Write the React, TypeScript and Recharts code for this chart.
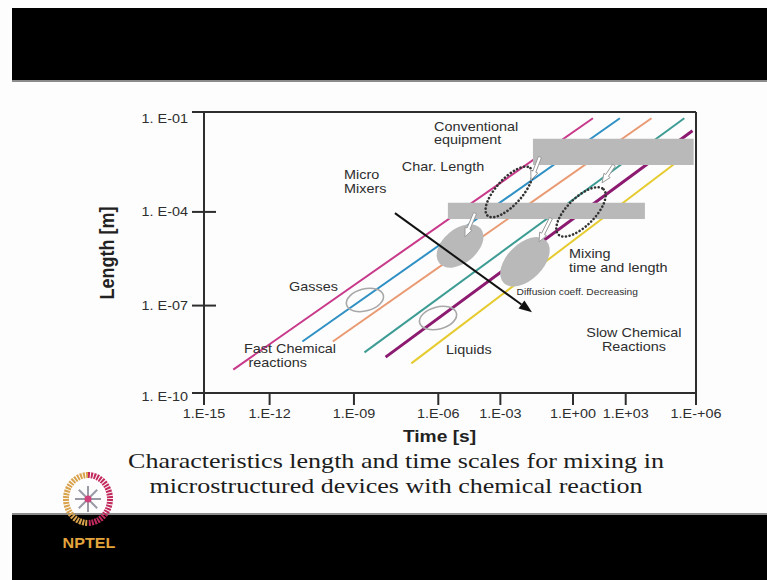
import React from "react";
import {
  ComposedChart,
  Line,
  XAxis,
  YAxis,
  ReferenceArea,
  ReferenceLine,
  ReferenceDot,
  Label,
} from "recharts";

// axis ticks (as drawn on the slide, log10 units; spacing is irregular in the original)
const xTickPos = [-15, -12.2, -8.6, -5.0, -2.35, 0.75, 3.0, 6];
const xTickLabels = ["1.E-15", "1.E-12", "1.E-09", "1.E-06", "1.E-03", "1.E+00", "1.E+03", "1.E-+06"];
const yTickPos = [-1, -4.2, -7.2, -10];
const yTickLabels = ["1. E-01", "1. E-04", "1. E-07", "1. E-10"];

// diffusion lines L ~ sqrt(D t): start and end, log10 time / log10 length
const magentaLine = [{ x: -13.75, y: -9.25 }, { x: 1.6, y: -1.2 }];
const blueLine = [{ x: -10.8, y: -8.35 }, { x: 2.75, y: -1.2 }];
const orangeLine = [{ x: -9.5, y: -8.35 }, { x: 4.1, y: -1.2 }];
const tealLine = [{ x: -8.15, y: -8.7 }, { x: 5.5, y: -1.2 }];
const purpleLine = [{ x: -7.25, y: -8.85 }, { x: 5.85, y: -1.6 }];
const yellowLine = [{ x: -6.15, y: -9.05 }, { x: 5.1, y: -2.65 }];

// grey bands: conventional equipment and micro mixers
const equipmentBand = { x1: -0.96, x2: 5.9, y1: -1.86, y2: -2.7 };
const microBand = { x1: -4.59, x2: 3.82, y1: -3.91, y2: -4.43 };

// marked regions
const mixingSpots = [{ x: -4.07, y: -5.29 }, { x: -1.3, y: -5.8 }];
const charLoops = [{ x: -1.98, y: -3.56 }, { x: 1.09, y: -4.2 }];
const phaseRings = [{ x: -8.13, y: -7.02 }, { x: -5.01, y: -7.6 }];

// arrows
const trendArrow = [{ x: -6.85, y: -4.24 }, { x: -1.0, y: -7.41 }];
const pointers = [
  [{ x: -0.66, y: -2.44 }, { x: -1.04, y: -3.18 }],
  [{ x: 2.5, y: -2.7 }, { x: 1.99, y: -3.27 }],
  [{ x: -3.43, y: -4.24 }, { x: -3.86, y: -5.0 }],
  [{ x: -0.19, y: -4.4 }, { x: -0.7, y: -5.16 }],
];

const notes = [
  { text: "Conventional", x: -5.18, y: -1.47 },
  { text: "equipment", x: -5.18, y: -1.9 },
  { text: "Char. Length", x: -6.56, y: -2.75 },
  { text: "Micro", x: -9.02, y: -3.02 },
  { text: "Mixers", x: -9.02, y: -3.45 },
  { text: "Gasses", x: -11.37, y: -6.61 },
  { text: "Fast Chemical", x: -13.29, y: -8.59 },
  { text: "reactions", x: -13.1, y: -9.04 },
  { text: "Liquids", x: -4.67, y: -8.62 },
  { text: "Mixing", x: 0.58, y: -5.56 },
  { text: "time and length", x: 0.58, y: -6.0 },
  { text: "Slow Chemical", x: 3.35, y: -8.08 },
  { text: "Reactions", x: 3.35, y: -8.53 },
];
const smallNote = { text: "Diffusion coeff. Decreasing", x: -1.66, y: -6.79 };

const INK = "#2e2e2e";
const SANS = "'Liberation Sans', Arial, sans-serif";
const GREY = "#b9b9b9";

const lines = [
  { key: "magenta", data: magentaLine, color: "#c8398a", width: 2 },
  { key: "blue", data: blueLine, color: "#2f90c4", width: 2 },
  { key: "orange", data: orangeLine, color: "#e99a72", width: 2 },
  { key: "teal", data: tealLine, color: "#3d9c94", width: 2 },
  { key: "purple", data: purpleLine, color: "#8c1a70", width: 3 },
  { key: "yellow", data: yellowLine, color: "#e5cb2e", width: 2 },
];

function WideText({ x, y, anchor = "start", size = 12.5, weight = 400, sx = 1.2, fill = INK, children }: any) {
  return (
    <text
      transform={`translate(${x},${y}) scale(${sx},1)`}
      textAnchor={anchor}
      dominantBaseline="central"
      fontSize={size}
      fontWeight={weight}
      fontFamily={SANS}
      fill={fill}
    >
      {children}
    </text>
  );
}

const XTick = (props: any) => {
  const { x, y, payload } = props;
  const i = xTickPos.indexOf(payload.value);
  return (
    <g>
      <line x1={x} y1={y} x2={x} y2={y + 12} stroke={INK} strokeWidth={2} />
      <WideText x={x} y={y + 21} anchor="middle" size={12}>
        {xTickLabels[i]}
      </WideText>
    </g>
  );
};

const YTick = (props: any) => {
  const { x, y, payload } = props;
  const i = yTickPos.indexOf(payload.value);
  const dy = i === 0 ? 7 : i === yTickPos.length - 1 ? 4 : 0;
  return (
    <g>
      <line x1={x - 12} y1={y} x2={x + 12} y2={y} stroke={INK} strokeWidth={2} />
      <WideText x={x - 16} y={y + dy} anchor="end" size={12}>
        {yTickLabels[i]}
      </WideText>
    </g>
  );
};

const ellipseShape = (rx: number, ry: number, rot: number, style: any) => (p: any) =>
  <ellipse cx={p.cx} cy={p.cy} rx={rx} ry={ry} transform={`rotate(${rot} ${p.cx} ${p.cy})`} {...style} />;

const spotStyle = { fill: GREY };
const loopStyle = { fill: "none", stroke: "#333", strokeWidth: 2.6, strokeDasharray: "0.1 3.6", strokeLinecap: "round" };
const ringStyle = { fill: "none", stroke: "#a8a8a8", strokeWidth: 1.6 };

const spotShapes = [ellipseShape(27, 17, -40, spotStyle), ellipseShape(30, 18, -45, spotStyle)];
const loopShapes = [ellipseShape(32, 13, -48, loopStyle), ellipseShape(32, 14, -45, loopStyle)];

const TrendArrow = (p: any) => {
  const { x1, y1, x2, y2 } = p;
  const a = Math.atan2(y2 - y1, x2 - x1);
  const c = Math.cos(a), s = Math.sin(a);
  const bx = x2 - 13 * c, by = y2 - 13 * s;
  const pts = `${x2},${y2} ${bx - 5 * s},${by + 5 * c} ${bx + 5 * s},${by - 5 * c}`;
  return (
    <g>
      <line x1={x1} y1={y1} x2={bx} y2={by} stroke="#111" strokeWidth={2} />
      <polygon points={pts} fill="#111" />
    </g>
  );
};

const Pointer = (p: any) => {
  const { x1, y1, x2, y2 } = p;
  const len = Math.hypot(x2 - x1, y2 - y1) || 1;
  const ux = (x2 - x1) / len, uy = (y2 - y1) / len;
  const nx = -uy, ny = ux;
  const bx = x2 - ux * 9, by = y2 - uy * 9;
  const pt = (px: number, py: number, k: number) => `${px + nx * k},${py + ny * k}`;
  const pts = [pt(x1, y1, 1.6), pt(bx, by, 1.6), pt(bx, by, 3.8), `${x2},${y2}`, pt(bx, by, -3.8), pt(bx, by, -1.6), pt(x1, y1, -1.6)].join(" ");
  return <polygon points={pts} fill="#fff" stroke="#9a9a9a" strokeWidth={1} />;
};

const noteShape = (text: string, anchor: string, size: number) => (p: any) =>
  <WideText x={p.cx} y={p.cy} anchor={anchor} size={size}>{text}</WideText>;

const TimeTitle = (props: any) => {
  const vb = props.viewBox;
  return (
    <WideText x={vb.x + 235.5} y={vb.y + 44} anchor="middle" size={16} weight={700} fill="#222">
      Time [s]
    </WideText>
  );
};

const LengthTitle = (props: any) => {
  const vb = props.viewBox;
  return (
    <text
      transform={`translate(${vb.x - 37},${vb.y + 141}) rotate(-90) scale(1,1.15)`}
      textAnchor="middle"
      dominantBaseline="central"
      fontSize={18}
      fontWeight={700}
      fontFamily={SANS}
      fill="#222"
    >
      Length [m]
    </text>
  );
};

function MixingChart() {
  return (
    <ComposedChart width={767} height={460} margin={{ top: 112, right: 71, bottom: 37, left: 144 }}>
      <XAxis
        type="number"
        dataKey="x"
        domain={[-15, 6]}
        ticks={xTickPos}
        interval={0}
        allowDataOverflow
        height={30}
        tickSize={0}
        tickMargin={0}
        tick={<XTick />}
        axisLine={{ stroke: INK, strokeWidth: 2 }}
      >
        <Label content={<TimeTitle />} />
      </XAxis>
      <YAxis
        type="number"
        dataKey="y"
        domain={[-10, -1]}
        ticks={yTickPos}
        interval={0}
        allowDataOverflow
        width={60}
        tickSize={0}
        tickMargin={0}
        tick={<YTick />}
        axisLine={{ stroke: INK, strokeWidth: 2 }}
      >
        <Label content={<LengthTitle />} />
      </YAxis>
      <ReferenceLine y={-1} stroke={INK} strokeWidth={2} />
      <ReferenceLine x={6} stroke={INK} strokeWidth={2} />

      {lines.map((l) => (
        <Line
          key={l.key}
          data={l.data}
          dataKey="y"
          type="linear"
          stroke={l.color}
          strokeWidth={l.width}
          dot={false}
          activeDot={false}
          isAnimationActive={false}
        />
      ))}

      <ReferenceArea {...equipmentBand} fill={GREY} fillOpacity={1} stroke="none" zIndex={450} />
      <ReferenceArea {...microBand} fill={GREY} fillOpacity={1} stroke="none" zIndex={450} />

      {mixingSpots.map((d, i) => (
        <ReferenceDot key={"s" + i} x={d.x} y={d.y} r={1} shape={spotShapes[i]} zIndex={600} />
      ))}
      {charLoops.map((d, i) => (
        <ReferenceDot key={"l" + i} x={d.x} y={d.y} r={1} shape={loopShapes[i]} zIndex={600} />
      ))}
      {phaseRings.map((d, i) => (
        <ReferenceDot key={"r" + i} x={d.x} y={d.y} r={1} shape={ellipseShape(19, 11, -15, ringStyle)} zIndex={600} />
      ))}

      {pointers.map((seg, i) => (
        <ReferenceLine key={"p" + i} segment={seg} shape={Pointer} zIndex={700} />
      ))}
      <ReferenceLine segment={trendArrow} shape={TrendArrow} zIndex={700} />

      {notes.map((n, i) => (
        <ReferenceDot
          key={"n" + i}
          x={n.x}
          y={n.y}
          r={1}
          shape={noteShape(n.text, n.text === "Slow Chemical" || n.text === "Reactions" ? "middle" : "start", 12)}
          zIndex={800}
        />
      ))}
      <ReferenceDot x={smallNote.x} y={smallNote.y} r={1} shape={noteShape(smallNote.text, "start", 8.5)} zIndex={800} />
    </ComposedChart>
  );
}

function Logo() {
  const cx = 88, cy = 499;
  const spokes = [0, 45, 90, 135, 180, 225, 270, 315];
  return (
    <svg width={767} height={580} style={{ position: "absolute", left: 0, top: 0, pointerEvents: "none" }}>
      <path d={`M ${cx} ${cy - 24} A 22 24 0 0 0 ${cx} ${cy + 24}`} fill="none" stroke="#d9a24c" strokeWidth={6} strokeDasharray="2 1" />
      <path d={`M ${cx} ${cy - 24} A 22 24 0 0 1 ${cx} ${cy + 24}`} fill="none" stroke="#c22a5c" strokeWidth={6} strokeDasharray="2 1" />
      {spokes.map((a) => (
        <line
          key={a}
          x1={cx}
          y1={cy}
          x2={cx + 13 * Math.cos((a * Math.PI) / 180)}
          y2={cy + 13 * Math.sin((a * Math.PI) / 180)}
          stroke="#9a9aa6"
          strokeWidth={2}
        />
      ))}
      <circle cx={cx} cy={cy} r={3.5} fill="#d0407a" />
      <text
        transform={`translate(${cx + 1},543) scale(1.15,1)`}
        textAnchor="middle"
        dominantBaseline="central"
        fontSize={14}
        fontWeight={700}
        fontFamily={SANS}
        fill="#e3a53c"
      >
        NPTEL
      </text>
    </svg>
  );
}

export default function App() {
  return (
    <div style={{ position: "absolute", left: 0, top: 0, width: 767, height: 580, background: "#fdfdfd", overflow: "hidden" }}>
      <div style={{ position: "absolute", left: 12, top: 8, width: 755, height: 72, background: "#000", borderBottom: "2px solid #8c8c8c" }} />
      <div style={{ position: "absolute", left: 12, top: 513, width: 755, height: 67, background: "#000", borderTop: "2px solid #8c8c8c" }} />
      <div style={{ position: "absolute", left: 0, top: 0 }}>
        <MixingChart />
      </div>
      <div
        style={{
          position: "absolute",
          left: 0,
          top: 449,
          width: 792,
          textAlign: "center",
          fontFamily: "'Liberation Serif', 'Times New Roman', serif",
          fontSize: 21,
          lineHeight: "25px",
          color: "#1c1c1c",
        }}
      >
        <div style={{ transform: "scaleX(1.24)" }}>Characteristics length and time scales for mixing in</div>
        <div style={{ transform: "scaleX(1.24)" }}>microstructured devices with chemical reaction</div>
      </div>
      <Logo />
    </div>
  );
}
